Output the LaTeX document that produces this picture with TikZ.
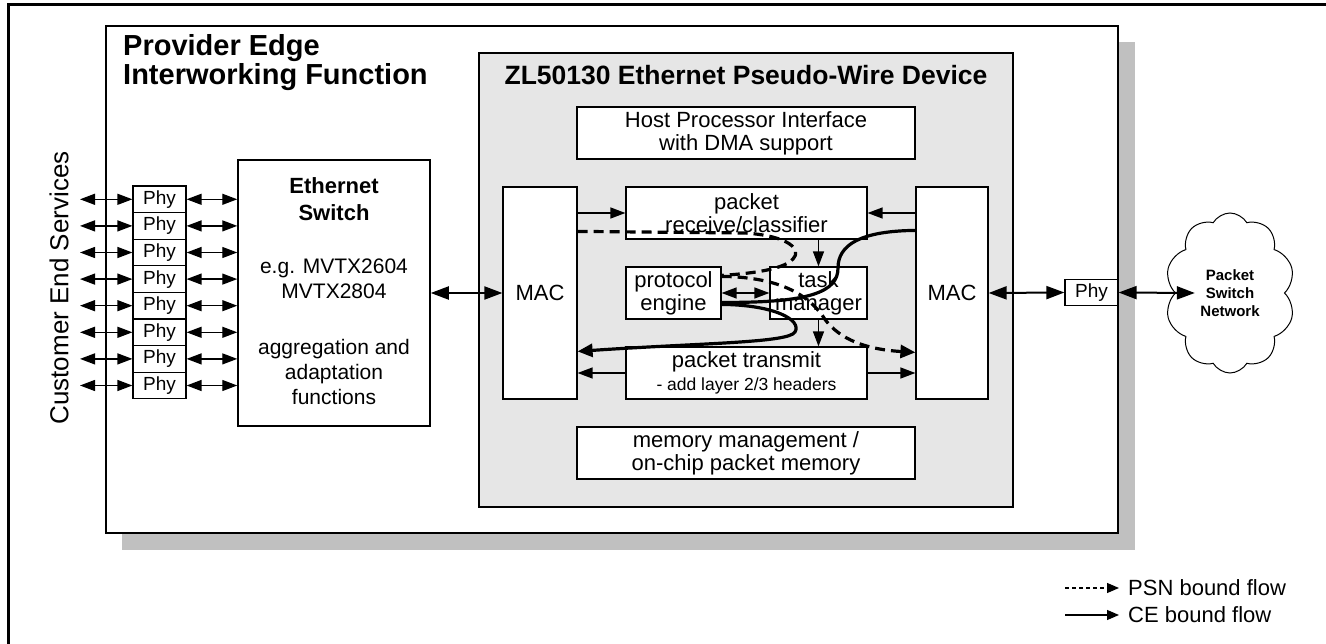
\documentclass[tikz,border=0pt]{standalone}
\usepackage{fontspec}
\setmainfont{Liberation Sans}
\usetikzlibrary{arrows.meta,shapes.symbols}
\definecolor{devgray}{HTML}{E6E6E6}
\definecolor{shadowgray}{HTML}{C0C0C0}
\tikzset{
  box/.style={draw, fill=white, line width=1.2pt, inner sep=0pt, align=center,
    font=\fontsize{22}{23}\selectfont},
  phybox/.style={draw, fill=white, line width=1.2pt, inner sep=0pt,
    minimum width=53pt, minimum height=26.6pt, font=\fontsize{19}{20}\selectfont},
  tarr/.style={line width=1.3pt, -{Triangle[length=15pt,width=11pt]}},
  darr/.style={line width=1.3pt, {Triangle[length=15pt,width=11pt]}-{Triangle[length=15pt,width=11pt]}},
  bigdarr/.style={line width=2pt, {Triangle[length=18pt,width=13pt]}-{Triangle[length=18pt,width=13pt]}},
  flowce/.style={line width=3.2pt},
  flowpsn/.style={line width=3.2pt, dash pattern=on 10pt off 6pt},
  legarr/.style={line width=1.2pt, -{Triangle[length=12pt,width=10pt]}},
  txt/.style={inner sep=0pt, align=center, font=\fontsize{21}{25}\selectfont},
}
\begin{document}
\begin{tikzpicture}[x=1pt,y=-1pt]
\useasboundingbox (0,0) rectangle (1326,644);
% outer frame
\draw[line width=3pt] (8,5) rectangle (1345,665);
% main box with shadow
\fill[shadowgray] (122,42) rectangle (1135,550);
\node[draw, fill=white, line width=2pt, inner sep=0pt, minimum width=1012pt, minimum height=507pt] (main) at (612,279.5) {};
\node[anchor=north west, align=left, inner sep=0pt, font=\bfseries\fontsize{29}{29}\selectfont] (petitle) at (123,34) {Provider Edge\\Interworking Function};
% device box
\node[draw, fill=devgray, line width=1.8pt, inner sep=0pt, minimum width=534pt, minimum height=454pt] (dev) at (746,280) {};
\node[anchor=base, inner sep=0pt, font=\bfseries\fontsize{26.5}{28}\selectfont] (devtitle) at (746,85) {ZL50130 Ethernet Pseudo-Wire Device};
% inner boxes
\node[box, minimum width=338pt, minimum height=52pt] (host) at (746,133) {Host Processor Interface\\with DMA support};
\node[box, minimum width=74pt, minimum height=212pt] (macl) at (540,293) {MAC};
\node[box, minimum width=72pt, minimum height=212pt] (macr) at (952,293) {MAC};
\node[box, minimum width=241pt, minimum height=52pt] (recv) at (746.5,213) {packet\\receive/classifier};
\node[box, minimum width=95pt, minimum height=52pt] (proto) at (673.5,293) {protocol\\engine};
\node[box, minimum width=97pt, minimum height=52pt] (task) at (818.5,293) {task\\manager};
\node[box, minimum width=241pt, minimum height=52pt] (xmit) at (746.5,373) {packet transmit\\{\fontsize{17.5}{19}\selectfont - add layer 2/3 headers}};
\node[box, minimum width=338pt, minimum height=52pt] (mem) at (746,453) {memory management /\\on-chip packet memory};
% Ethernet switch
\node[draw, fill=white, line width=1.5pt, inner sep=0pt, minimum width=192pt, minimum height=266pt] (es) at (334,293) {};
\node[txt, font=\bfseries\fontsize{22}{27}\selectfont] (estitle) at (334,199) {Ethernet\\Switch};
\node[txt] (esmodel) at (334,279) {e.g. MVTX2604\\MVTX2804};
\node[txt] (esfunc) at (334,372) {aggregation and\\adaptation\\functions};
% customer side
\node[rotate=90, inner sep=0pt, font=\fontsize{26}{28}\selectfont] (ces) at (59,288) {Customer End Services};
\foreach \i in {0,...,7}{
  \node[phybox] (phy\i) at (159.5,{199.3+26.6*\i}) {Phy};
  \coordinate (cl\i) at (80,{199.3+26.6*\i});
  \draw[darr] (cl\i) -- (phy\i.west);
  \draw[darr] (phy\i.east) -- (es.west |- phy\i);
}
% network side
\node[phybox] (phyr) at (1091.5,292.5) {Phy};
\node[cloud, draw, cloud puffs=10, cloud puff arc=120, aspect=0.8, line width=1pt, inner sep=0pt,
  minimum width=130pt, minimum height=160pt, align=center, font=\bfseries\fontsize{15}{18}\selectfont] (psn) at (1230,293) {Packet\\Switch\\Network};
\draw[bigdarr] (es.east) -- (macl.west);
\draw[bigdarr] (macr.east) -- (phyr.west);
\draw[bigdarr] (phyr.east) -- ([xshift=20pt]psn.west);
% internal thin arrows
\draw[tarr] (macl.east |- recv) -- (recv.west);
\draw[tarr] (macr.west |- recv) -- (recv.east);
\draw[tarr] (recv.south -| task) -- (task.north);
\draw[tarr] (task.south) -- (xmit.north -| task);
\draw[darr] (proto.east) -- (task.west);
\draw[tarr] (xmit.west) -- (macl.east |- xmit);
\draw[tarr] (xmit.east) -- (macr.west |- xmit);
% PSN bound flow (dashed)
\draw[flowpsn] ([yshift=-45pt]macl.north east) -- (745,233) .. controls (790,236) and (802,250) .. (793,259) .. controls (785,268) and (760,273) .. ([yshift=-9pt]proto.north east);
\draw[flowpsn, -{Triangle[length=15pt,width=13pt]}] ([yshift=-10pt]proto.north east) .. controls (775,277) and (805,292) .. (822,315) .. controls (835,336) and (860,349) .. ([yshift=-166pt]macr.north west);
% CE bound flow (solid)
\draw[flowce] ([yshift=-44pt]macr.north west) .. controls (860,231) and (838,245) .. (838,268) .. controls (838,292) and (810,303) .. ([yshift=-36pt]proto.north east);
\draw[flowce, -{Triangle[length=15pt,width=13pt]}] ([yshift=-38pt]proto.north east) .. controls (775,305) and (802,320) .. (795,332) .. controls (789,343) and (700,343) .. ([yshift=-165pt]macl.north east);
% legend
\node[anchor=west, inner sep=0pt, font=\fontsize{22}{24}\selectfont] (leg1) at (1128,588) {PSN bound flow};
\node[anchor=west, inner sep=0pt, font=\fontsize{22}{24}\selectfont] (leg2) at (1128,615) {CE bound flow};
\coordinate (lg1) at (1065,588);
\coordinate (lg2) at (1065,615);
\draw[legarr, dash pattern=on 4pt off 3pt] (lg1) -- ([xshift=-9pt]leg1.west);
\draw[legarr] (lg2) -- ([xshift=-9pt]leg2.west);
\end{tikzpicture}
\end{document}
